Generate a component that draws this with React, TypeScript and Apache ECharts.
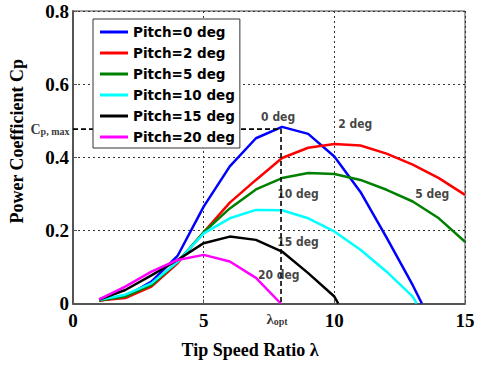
import React, { useEffect, useRef } from "react";
import * as echarts from "echarts";

const pitchNames = ["Pitch=0 deg", "Pitch=2 deg", "Pitch=5 deg", "Pitch=10 deg", "Pitch=15 deg", "Pitch=20 deg"];
const pitchColors = ["#0000ff", "#ff0000", "#008000", "#00ffff", "#000000", "#ff00ff"];

const pitch0 = [[1, 0.008], [2, 0.019], [3, 0.06], [4, 0.13], [5, 0.265], [6, 0.375], [7, 0.452], [8, 0.483], [9, 0.464], [10, 0.402], [11, 0.305], [12, 0.18], [13, 0.05], [13.35, 0]];
const pitch2 = [[1, 0.008], [2, 0.015], [3, 0.046], [4, 0.11], [5, 0.195], [6, 0.276], [7, 0.338], [8, 0.398], [9, 0.426], [10, 0.436], [11, 0.432], [12, 0.41], [13, 0.38], [14, 0.343], [15, 0.297]];
const pitch5 = [[1, 0.008], [2, 0.019], [3, 0.05], [4, 0.114], [5, 0.195], [6, 0.26], [7, 0.312], [8, 0.343], [9, 0.357], [10, 0.354], [11, 0.338], [12, 0.311], [13, 0.279], [14, 0.233], [15, 0.169]];
const pitch10 = [[1, 0.01], [2, 0.024], [3, 0.055], [4, 0.114], [5, 0.192], [6, 0.233], [7, 0.256], [8, 0.255], [9, 0.233], [10, 0.197], [11, 0.147], [12, 0.087], [13, 0.019], [13.15, 0]];
const pitch15 = [[1, 0.011], [2, 0.037], [3, 0.077], [4, 0.119], [5, 0.165], [6, 0.183], [7, 0.174], [8, 0.142], [9, 0.083], [10, 0.019], [10.15, 0]];
const pitch20 = [[1, 0.011], [2, 0.046], [3, 0.087], [4, 0.119], [5, 0.133], [6, 0.115], [7, 0.07], [7.95, 0]];

const lambdaOpt = 7.96;
const cpMax = 0.477;

const curveLabels = [
  [7.85, 0.511, "0 deg"],
  [10.8, 0.49, "2 deg"],
  [13.75, 0.3, "5 deg"],
  [8.61, 0.3, "10 deg"],
  [8.61, 0.167, "15 deg"],
  [7.87, 0.078, "20 deg"],
];

const xTicks = [0, 5, 10, 15];
const yTicks = [0, 0.2, 0.4, 0.6, 0.8];

export default function App() {
  const ref = useRef<HTMLDivElement>(null);
  useEffect(() => {
    if (!ref.current) return;
    const chart = echarts.init(ref.current, undefined, { renderer: "svg" });
    const serif = "'Liberation Serif', 'Times New Roman', serif";
    const narrow = "'Liberation Sans Narrow', 'Arial Narrow', 'DejaVu Sans Condensed', sans-serif";
    const allSeries = [pitch0, pitch2, pitch5, pitch10, pitch15, pitch20];
    const series: any[] = allSeries.map((d, i) => ({
      name: pitchNames[i],
      type: "line",
      data: d,
      symbol: "none",
      lineStyle: { color: pitchColors[i], width: 2.5 },
      itemStyle: { color: pitchColors[i] },
      z: 3,
    }));
    series.push({
      name: "cpmax",
      type: "line",
      data: [[0, cpMax], [lambdaOpt, cpMax], [lambdaOpt, 0]],
      symbol: "none",
      lineStyle: { color: "#000", width: 1.6, type: [5, 3] },
      z: 4,
    });
    series.push({
      name: "curveLabels",
      type: "scatter",
      data: curveLabels.map((c) => ({ value: [c[0], c[1]], name: c[2] })),
      symbolSize: 1,
      itemStyle: { color: "rgba(0,0,0,0)" },
      label: {
        show: true,
        position: "inside",
        formatter: (p: any) => p.name,
        color: "#111",
        fontFamily: narrow,
        fontWeight: "bold",
        fontSize: 12,
      },
      z: 5,
    });
    series.push({
      name: "cpLabel",
      type: "scatter",
      data: [[0, cpMax]],
      symbolSize: 1,
      clip: false,
      itemStyle: { color: "rgba(0,0,0,0)" },
      label: {
        show: true,
        position: "left",
        distance: 3,
        formatter: "{c|C}{s|p, max}",
        rich: {
          c: { fontFamily: serif, fontWeight: "bold", fontSize: 14, color: "#000" },
          s: { fontFamily: serif, fontWeight: "bold", fontSize: 10, color: "#000", padding: [5, 0, 0, 0] },
        },
      },
    });
    series.push({
      name: "lamLabel",
      type: "scatter",
      data: [[lambdaOpt, 0]],
      symbolSize: 1,
      clip: false,
      itemStyle: { color: "rgba(0,0,0,0)" },
      label: {
        show: true,
        position: "bottom",
        distance: 7,
        offset: [-4, 0],
        formatter: "{l|λ}{s|opt}",
        rich: {
          l: { fontFamily: serif, fontWeight: "bold", fontSize: 15, color: "#000" },
          s: { fontFamily: serif, fontWeight: "bold", fontSize: 10, color: "#000", padding: [5, 0, 0, 0] },
        },
      },
    });

    chart.setOption({
      animation: false,
      backgroundColor: "#fff",
      grid: {
        left: 73,
        right: 15,
        top: 11,
        bottom: 63.5,
        show: true,
        borderColor: "#444",
        borderWidth: 1,
        containLabel: false,
      },
      legend: {
        data: pitchNames,
        orient: "vertical",
        left: 93,
        top: 19,
        padding: [6, 5, 4, 7],
        itemGap: 7,
        itemWidth: 28,
        itemHeight: 3,
        icon: "rect",
        backgroundColor: "#fff",
        borderColor: "#333",
        borderWidth: 1,
        borderRadius: 0,
        textStyle: {
          fontFamily: "'DejaVu Sans', sans-serif",
          fontWeight: "bold",
          fontSize: 13.5,
          lineHeight: 14,
          color: "#000",
        },
        z: 10,
      },
      xAxis: {
        type: "value",
        min: 0,
        max: 15,
        interval: 5,
        name: "Tip Speed Ratio λ",
        nameLocation: "middle",
        nameGap: 37,
        nameTextStyle: {
          fontFamily: serif,
          fontWeight: "bold",
          fontSize: 18,
          color: "#000",
          padding: [0, 38, 0, 0],
        },
        axisLine: { show: true, lineStyle: { color: "#555", width: 2 } },
        axisTick: { show: true, inside: true, length: 4, lineStyle: { color: "#555" } },
        axisLabel: {
          margin: 7,
          fontFamily: serif,
          fontWeight: "bold",
          fontSize: 19,
          color: "#000",
          formatter: (v: number) => (xTicks.includes(v) ? String(v) : ""),
        },
        splitLine: { show: true, lineStyle: { color: "#333", width: 1, type: [2, 3] } },
      },
      yAxis: {
        type: "value",
        min: 0,
        max: 0.8,
        interval: 0.2,
        name: "Power Coefficient Cp",
        nameLocation: "middle",
        nameGap: 47,
        nameTextStyle: {
          fontFamily: serif,
          fontWeight: "bold",
          fontSize: 18,
          color: "#000",
          padding: [0, 0, 0, 32],
        },
        axisLine: { show: true, lineStyle: { color: "#555", width: 2 } },
        axisTick: { show: true, inside: true, length: 4, lineStyle: { color: "#555" } },
        axisLabel: {
          margin: 4,
          fontFamily: serif,
          fontWeight: "bold",
          fontSize: 19,
          color: "#000",
          formatter: (v: number) => {
            const t = yTicks.find((y) => Math.abs(y - v) < 1e-9);
            return t === undefined ? "" : t === 0 ? "0" : t.toFixed(1);
          },
        },
        splitLine: { show: true, lineStyle: { color: "#333", width: 1, type: [2, 3] } },
      },
      series,
    });
    return () => chart.dispose();
  }, []);
  return <div ref={ref} style={{ position: "fixed", left: 0, top: 0, width: 480, height: 367 }} />;
}
